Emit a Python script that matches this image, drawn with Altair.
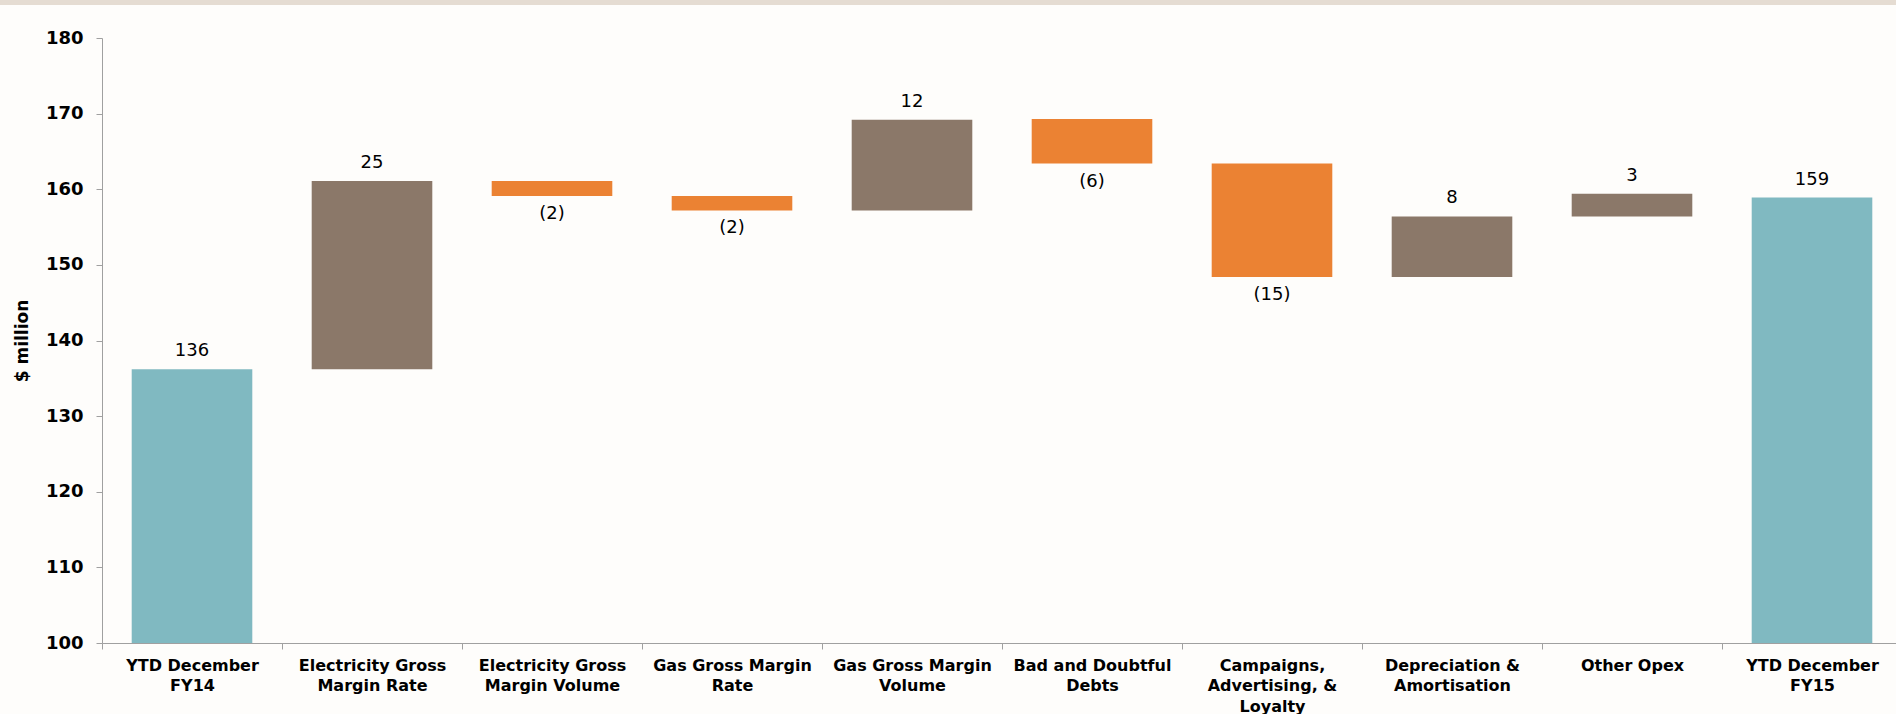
import altair as alt
import pandas as pd

categories = [
    "YTD December\nFY14",
    "Electricity Gross\nMargin Rate",
    "Electricity Gross\nMargin Volume",
    "Gas Gross Margin\nRate",
    "Gas Gross Margin\nVolume",
    "Bad and Doubtful\nDebts",
    "Campaigns,\nAdvertising, &\nLoyalty",
    "Depreciation &\nAmortisation",
    "Other Opex",
    "YTD December\nFY15",
]
bar_start = [0, 136.2, 161.1, 159.1, 157.2, 169.3, 163.4, 148.4, 156.4, 0]
bar_end = [136.2, 161.1, 159.1, 157.2, 169.2, 163.4, 148.4, 156.4, 159.4, 158.9]
value_labels = ["136", "25", "(2)", "(2)", "12", "(6)", "(15)", "8", "3", "159"]
kinds = ["total", "up", "down", "down", "up", "down", "down", "up", "up", "total"]

kind_domain = ["total", "up", "down"]
kind_colors = ["#80B9C1", "#8B7869", "#EB8233"]

df = pd.DataFrame({
    "cat": categories,
    "start": bar_start,
    "end": bar_end,
    "label": value_labels,
    "kind": kinds,
})
df["top"] = df[["start", "end"]].max(axis=1)
df["bottom"] = df[["start", "end"]].min(axis=1)

FONT = "DejaVu Sans"
AXIS_GRAY = "#A0A0A0"
W, H = 1794, 605
X_RANGE = 1800

x_enc = alt.X(
    "cat:N",
    sort=categories,
    scale=alt.Scale(paddingInner=0, paddingOuter=0, range=[0, X_RANGE]),
    axis=alt.Axis(
        title=None,
        labelAngle=0,
        tickBand="extent",
        labelExpr="split(datum.label, '\\n')",
        labelFont=FONT,
        labelFontSize=16,
        labelFontWeight="bold",
        labelColor="black",
        labelLineHeight=20.5,
        labelBaseline="top",
        labelPadding=8,
        labelLimit=250,
        domainColor=AXIS_GRAY,
        tickColor=AXIS_GRAY,
        tickSize=6,
        grid=False,
    ),
)

y_scale = alt.Scale(domain=[100, 180], nice=False, zero=False)
y_axis = alt.Axis(
    title="$ million",
    values=[100, 110, 120, 130, 140, 150, 160, 170, 180],
    grid=False,
    domainColor=AXIS_GRAY,
    tickColor=AXIS_GRAY,
    tickSize=6,
    labelFont=FONT,
    labelFontSize=18,
    labelFontWeight="bold",
    labelColor="black",
    labelPadding=13,
    titleFont=FONT,
    titleFontSize=17,
    titleFontWeight="bold",
    titleColor="black",
    titleX=-80,
    titleY=H / 2,
    titleAngle=270,
    titleAlign="center",
    titleBaseline="middle",
)

base = alt.Chart(df)

bars = base.mark_bar(width={"band": 0.67}, clip=True).encode(
    x=x_enc,
    y=alt.Y("start:Q", scale=y_scale, axis=y_axis),
    y2="end:Q",
    color=alt.Color("kind:N", scale=alt.Scale(domain=kind_domain, range=kind_colors), legend=None),
)

up_text = base.transform_filter("datum.kind != 'down'").mark_text(
    dy=-13, baseline="alphabetic", fontSize=18, font=FONT, color="black"
).encode(
    x=x_enc,
    y=alt.Y("top:Q", scale=y_scale, axis=y_axis),
    text="label:N",
)

down_text = base.transform_filter("datum.kind == 'down'").mark_text(
    dy=23, baseline="alphabetic", fontSize=18, font=FONT, color="black"
).encode(
    x=x_enc,
    y=alt.Y("bottom:Q", scale=y_scale, axis=y_axis),
    text="label:N",
)

top_band = alt.Chart(alt.Data(values=[{"band": 1}])).mark_rect(color="#E5DCD2").encode(
    x=alt.value(-102), x2=alt.value(X_RANGE), y=alt.value(-38), y2=alt.value(-33)
)

chart = alt.layer(top_band, bars, up_text, down_text).properties(
    width=W,
    height=H,
    autosize=alt.AutoSizeParams(type="none"),
    padding={"left": 102, "top": 38, "right": 0, "bottom": 71},
    background="#FEFDFB",
).configure_view(strokeWidth=0)

chart.save("out.html", embed_options={"renderer": "svg", "actions": False})
